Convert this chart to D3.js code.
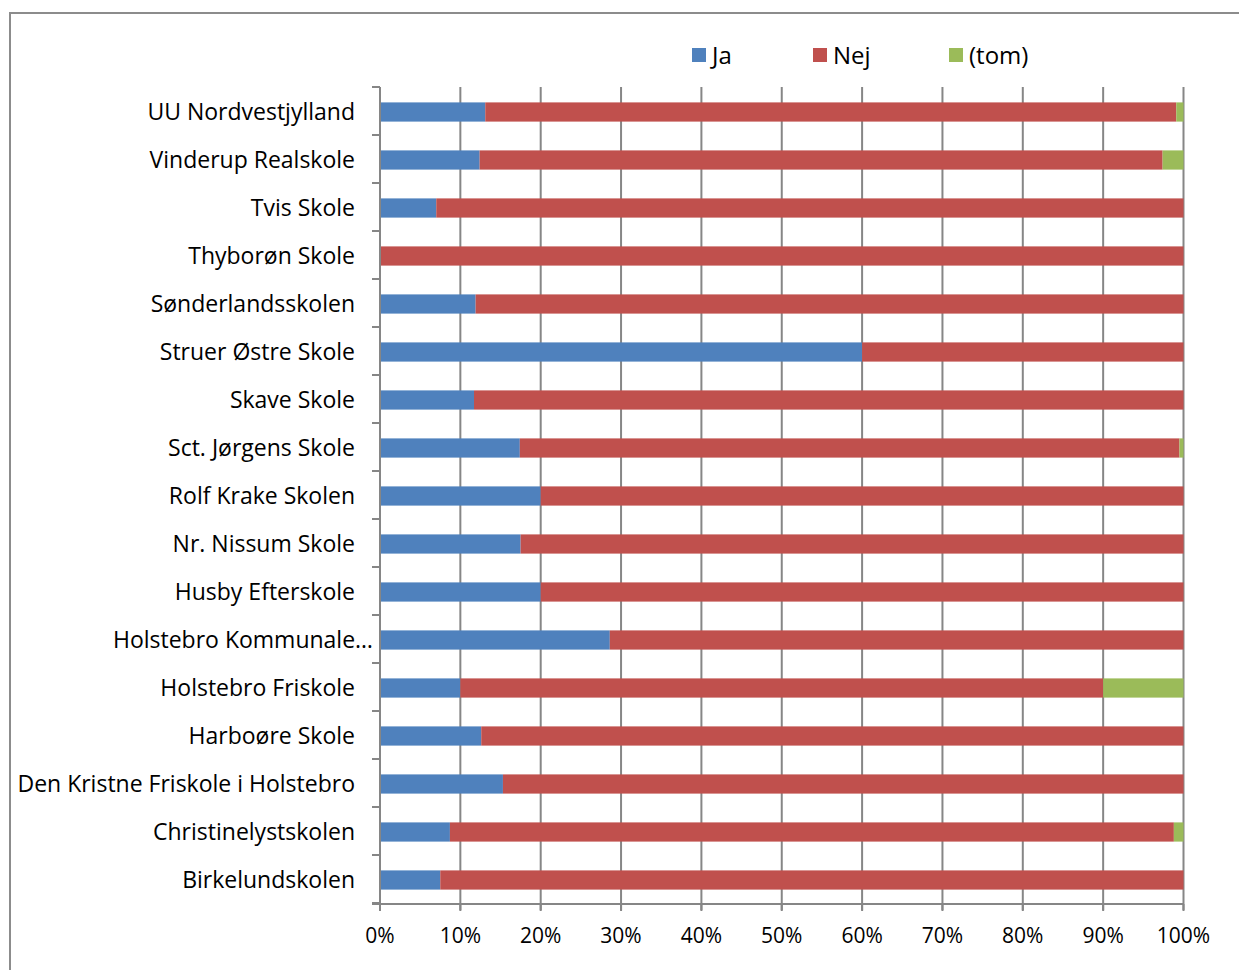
<!DOCTYPE html>
<html><head><meta charset="utf-8">
<script src="https://cdn.jsdelivr.net/npm/d3@7"></script>
<style>body{margin:0;background:#fff}svg{display:block}</style>
</head><body>
<svg id="c" width="1239" height="970"></svg>
<script>
const categories = ["UU Nordvestjylland","Vinderup Realskole","Tvis Skole","Thyborøn Skole","Sønderlandsskolen","Struer Østre Skole","Skave Skole","Sct. Jørgens Skole","Rolf Krake Skolen","Nr. Nissum Skole","Husby Efterskole","Holstebro Kommunale…","Holstebro Friskole","Harboøre Skole","Den Kristne Friskole i Holstebro","Christinelystskolen","Birkelundskolen"];
const ja  = [13.1,12.4,7.0,0,11.9,60.0,11.7,17.4,20.0,17.5,20.0,28.6,10.0,12.6,15.3,8.7,7.5];
const nej = [86.0,85.0,93.0,100,88.1,40.0,88.3,82.1,80.0,82.5,80.0,71.4,80.0,87.4,84.7,90.1,92.5];
const tom = [0.9,2.6,0,0,0,0,0,0.5,0,0,0,0,10.0,0,0,1.2,0];
const seriesNames = ["Ja","Nej","(tom)"];
const colors = ["#4f81bd","#c0504d","#9bbb59"];
const xTicks = [0,10,20,30,40,50,60,70,80,90,100];

const svg = d3.select("#c");
const FONT = "'Open Sans', sans-serif";
const gridCol = "#868686";

// frame
svg.append("rect").attr("x",10).attr("y",13).attr("width",1260).attr("height",1000)
  .attr("fill","none").attr("stroke","#8c8c8c").attr("stroke-width",2);

const x = d3.scaleLinear().domain([0,100]).range([380,1183.5]);
const y = d3.scaleBand().domain(categories).range([88,904]).paddingInner(0.6).paddingOuter(0.3);
const band = d3.scaleBand().domain(categories).range([87,903]);

// gridlines
svg.append("g").selectAll("line").data(xTicks.slice(1)).join("line")
  .attr("x1",d=>x(d)).attr("x2",d=>x(d)).attr("y1",87).attr("y2",910)
  .attr("stroke",gridCol).attr("stroke-width",2);

// stacked data
const rows = categories.map((c,i)=>({cat:c, vals:[ja[i],nej[i],tom[i]]}));
const stack = d3.stack().keys([0,1,2]).value((d,k)=>d.vals[k]);
const stacked = stack(rows);
svg.append("g").selectAll("g").data(stacked).join("g")
  .attr("fill",(d,i)=>colors[i])
  .selectAll("rect").data(d=>d).join("rect")
  .attr("x",d=>x(d[0])).attr("width",d=>Math.max(0,x(d[1])-x(d[0])))
  .attr("y",d=>y(d.data.cat)).attr("height",y.bandwidth());

// y axis
const yAxis = svg.append("g");
yAxis.append("line").attr("x1",380).attr("x2",380).attr("y1",87).attr("y2",904)
  .attr("stroke",gridCol).attr("stroke-width",2);
const bounds = categories.map(c=>band(c)).concat([903]);
yAxis.selectAll("line.t").data(bounds).join("line").attr("class","t")
  .attr("x1",372).attr("x2",380).attr("y1",d=>d).attr("y2",d=>d)
  .attr("stroke",gridCol).attr("stroke-width",2);
// x axis line
svg.append("line").attr("x1",372).attr("x2",1184).attr("y1",904).attr("y2",904)
  .attr("stroke",gridCol).attr("stroke-width",2);
svg.append("g").selectAll("line").data(xTicks).join("line")
  .attr("x1",d=>x(d)).attr("x2",d=>x(d)).attr("y1",904).attr("y2",911)
  .attr("stroke",gridCol).attr("stroke-width",2);

const fsL = 23, fsT = 21, fsG = 24;
// category labels
svg.append("g").selectAll("text").data(categories).join("text")
  .attr("x",d=> d.endsWith("…") ? 373 : 355)
  .attr("y",d=>band(d)+band.bandwidth()/2 + 1)
  .attr("dy","0.35em").attr("text-anchor","end")
  .attr("font-family",FONT).attr("font-size",fsL).attr("fill","#000").text(d=>d);

// x tick labels
svg.append("g").selectAll("text").data(xTicks).join("text")
  .attr("x",d=>x(d)).attr("y",943).attr("text-anchor","middle")
  .attr("font-family",FONT).attr("font-size",fsT).attr("fill","#000").text(d=>d+"%");

// legend
const legX = [692,813,949];
const lg = svg.append("g").selectAll("g").data(seriesNames).join("g")
  .attr("transform",(d,i)=>`translate(${legX[i]},48)`);
lg.append("rect").attr("width",14).attr("height",14).attr("fill",(d,i)=>colors[i]);
lg.append("text").attr("x",20).attr("y",8).attr("dy","0.35em")
  .attr("font-family",FONT).attr("font-size",fsG).attr("fill","#000").text(d=>d);
</script>
</body></html>
